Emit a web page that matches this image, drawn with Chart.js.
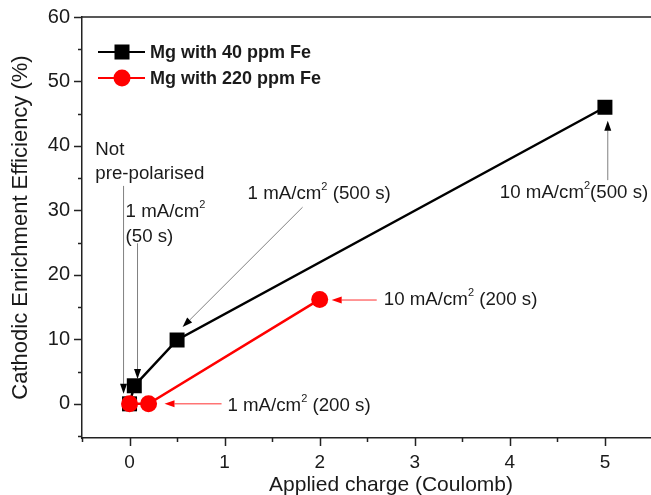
<!DOCTYPE html>
<html><head><meta charset="utf-8">
<script src="https://cdn.jsdelivr.net/npm/chart.js@4.4.0/dist/chart.umd.min.js"></script>
<style>html,body{margin:0;padding:0;background:#fff;overflow:hidden}#wrap{width:651px;height:495px;overflow:hidden}</style>
</head><body>
<div id="wrap"><canvas id="c" width="700" height="495"></canvas></div>
<script>
// ---- data ----
const seriesNames = ['Mg with 40 ppm Fe', 'Mg with 220 ppm Fe'];
const chargeFe40 = [0, 0.05, 0.5, 5];
const efficiencyFe40 = [0, 2.8, 9.9, 46.0];
const chargeFe220 = [0, 0.2, 2];
const efficiencyFe220 = [0, 0, 16.2];
const xTicks = [0, 1, 2, 3, 4, 5];
const yTicks = [0, 10, 20, 30, 40, 50, 60];
const xTitle = 'Applied charge (Coulomb)';
const yTitle = 'Cathodic Enrichment Efficiency (%)';

// annotation texts ('^' marks a superscript character)
const noteTexts = [
  ['Not', 'pre-polarised'],
  ['1 mA/cm^2', '(50 s)'],
  ['1 mA/cm^2 (500 s)'],
  ['10 mA/cm^2(500 s)'],
  ['10 mA/cm^2 (200 s)'],
  ['1 mA/cm^2 (200 s)']
];
// text anchors (data coords: left x, y of each line)
const noteX = [-0.36, -0.042, 1.242, 3.895, 2.674, 1.03];
const noteY = [[39.4, 35.7], [29.8, 25.9], [32.5], [32.7], [16.1], [-0.3]];
// arrows (data coords) from -> to
const arrowFrom = [[-0.063, 33.8], [0.084, 24.9], [1.82, 30.5], [5.03, 34.7], [2.6, 16.1], [0.968, 0]];
const arrowTo   = [[-0.063, 1.55], [0.084, 3.85], [0.558, 11.9], [5.03, 43.9], [2.126, 16.1], [0.368, 0]];
const noteSeries = [0, 0, 0, 0, 1, 1];

const FONT = '"Liberation Sans", Arial, sans-serif';
const colors = ['#000000', '#ff0000'];
const textCol = '#1a1a1a';

function toXY(xs, ys) { return xs.map((x, i) => ({x: x, y: ys[i]})); }

function drawRich(ctx, str, x, y, size) {
  let cx = x;
  for (let i = 0; i < str.length; i++) {
    const ch = str[i];
    if (ch === '^') {
      const s = str[++i];
      ctx.font = Math.round(size * 0.6) + 'px ' + FONT;
      ctx.fillText(s, cx, y - size * 0.38);
      cx += ctx.measureText(s).width;
      continue;
    }
    ctx.font = size + 'px ' + FONT;
    ctx.fillText(ch, cx, y);
    cx += ctx.measureText(ch).width;
  }
}

const decor = {
  id: 'decor',
  afterDraw(chart) {
    const ctx = chart.ctx, xs = chart.scales.x, ys = chart.scales.y, a = chart.chartArea;
    ctx.save();
    // ticks + top frame
    ctx.strokeStyle = '#222'; ctx.lineWidth = 1.5;
    ctx.beginPath();
    for (let v = -5; v <= 60; v += 5) {
      if (v < ys.min || v > ys.max) continue;
      const py = Math.round(ys.getPixelForValue(v)) + 0.5;
      const len = v % 10 === 0 ? 8 : 4;
      ctx.moveTo(a.left - len, py); ctx.lineTo(a.left, py);
    }
    for (let k = -1; k <= 12; k++) {
      const v = k / 2;
      if (v < xs.min || v > xs.max) continue;
      const px = Math.round(xs.getPixelForValue(v)) + 0.5;
      const len = k % 2 === 0 ? 8 : 4;
      ctx.moveTo(px, a.bottom); ctx.lineTo(px, a.bottom + len);
    }
    ctx.moveTo(a.left, a.top); ctx.lineTo(a.right, a.top);
    ctx.stroke();

    // annotations
    ctx.textBaseline = 'middle';
    ctx.textAlign = 'left';
    noteTexts.forEach((lines, i) => {
      const col = colors[noteSeries[i]];
      ctx.fillStyle = textCol;
      lines.forEach((ln, j) => {
        drawRich(ctx, ln, xs.getPixelForValue(noteX[i]), ys.getPixelForValue(noteY[i][j]), 18.7);
      });
      const x1 = xs.getPixelForValue(arrowFrom[i][0]), y1 = ys.getPixelForValue(arrowFrom[i][1]);
      const x2 = xs.getPixelForValue(arrowTo[i][0]), y2 = ys.getPixelForValue(arrowTo[i][1]);
      const ang = Math.atan2(y2 - y1, x2 - x1);
      const L = 10, W = 3.5;
      const bx = x2 - L * Math.cos(ang), by = y2 - L * Math.sin(ang);
      ctx.strokeStyle = noteSeries[i] === 0 ? '#808080' : '#ff3030';
      ctx.lineWidth = 1;
      ctx.beginPath(); ctx.moveTo(x1, y1); ctx.lineTo(bx, by); ctx.stroke();
      ctx.fillStyle = col;
      ctx.beginPath();
      ctx.moveTo(x2, y2);
      ctx.lineTo(bx + W * Math.sin(ang), by - W * Math.cos(ang));
      ctx.lineTo(bx - W * Math.sin(ang), by + W * Math.cos(ang));
      ctx.closePath(); ctx.fill();
    });

    // legend
    const lx0 = 98, lx1 = 145, mx = 122, ly = [52, 78];
    chart.data.datasets.forEach((ds, i) => {
      ctx.strokeStyle = ds.borderColor; ctx.lineWidth = 2;
      ctx.beginPath(); ctx.moveTo(lx0, ly[i]); ctx.lineTo(lx1, ly[i]); ctx.stroke();
      ctx.fillStyle = ds.borderColor;
      if (ds.pointStyle === 'rect') {
        ctx.fillRect(mx - 7.5, ly[i] - 7.5, 15, 15);
      } else {
        ctx.beginPath(); ctx.arc(mx, ly[i], 8.5, 0, Math.PI * 2); ctx.fill();
      }
      ctx.fillStyle = textCol;
      ctx.font = 'bold 18px ' + FONT;
      ctx.fillText(ds.label, 150, ly[i] + 1);
    });
    ctx.restore();
  }
};

function zeroPad(s) { s.paddingLeft = 0; s.paddingRight = 0; s.paddingTop = 0; s.paddingBottom = 0; }

new Chart(document.getElementById('c'), {
  type: 'scatter',
  data: {
    datasets: [
      {label: seriesNames[0], data: toXY(chargeFe40, efficiencyFe40), showLine: true,
       borderColor: colors[0], backgroundColor: colors[0], borderWidth: 2.5,
       pointStyle: 'rect', pointRadius: 10.6, pointBorderWidth: 0, order: 2},
      {label: seriesNames[1], data: toXY(chargeFe220, efficiencyFe220), showLine: true,
       borderColor: colors[1], backgroundColor: colors[1], borderWidth: 2.5,
       pointStyle: 'circle', pointRadius: 8.5, pointBorderWidth: 0, order: 1}
    ]
  },
  options: {
    responsive: false, animation: false, devicePixelRatio: 1,
    layout: {autoPadding: false, padding: {top: 17, right: 0, left: 0, bottom: 0}},
    plugins: {legend: {display: false}, tooltip: {enabled: false}},
    scales: {
      x: {
        type: 'linear', min: -0.5, max: 6,
        afterBuildTicks: (ax) => { ax.ticks = xTicks.map(v => ({value: v})); },
        afterFit: (s) => { s.height = 57; zeroPad(s); },
        grid: {display: false, drawTicks: false, tickLength: 0},
        border: {display: true, color: '#222', width: 1.5},
        ticks: {font: {size: 19, family: FONT}, color: textCol, padding: 13, maxRotation: 0, autoSkip: false},
        title: {display: true, text: xTitle, font: {size: 21, family: FONT}, color: textCol, padding: {top: 0, bottom: -3}}
      },
      y: {
        type: 'linear', min: -5.3, max: 60,
        afterBuildTicks: (ax) => { ax.ticks = yTicks.map(v => ({value: v})); },
        afterFit: (s) => { s.width = 82; zeroPad(s); },
        grid: {display: false, drawTicks: false, tickLength: 0},
        border: {display: true, color: '#222', width: 1.5},
        ticks: {font: {size: 20, family: FONT}, color: textCol, padding: 12, autoSkip: false},
        title: {display: true, text: yTitle, font: {size: 22, family: FONT}, color: textCol, padding: {top: 8, bottom: 0}}
      }
    }
  },
  plugins: [decor]
});
</script>
</body></html>
